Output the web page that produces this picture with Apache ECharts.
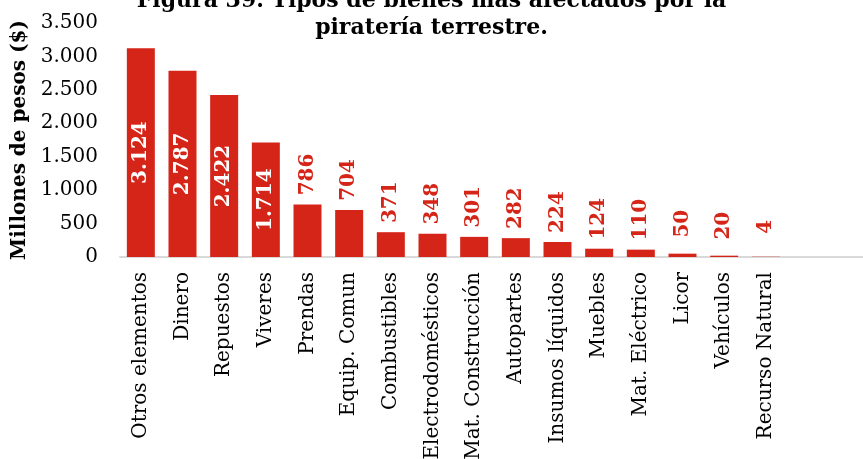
<!DOCTYPE html>
<html>
<head>
<meta charset="utf-8">
<script src="https://cdn.jsdelivr.net/npm/echarts@6/dist/echarts.min.js"></script>
<style>
  html, body { margin: 0; padding: 0; background: #fff; }
  #chart { width: 863px; height: 459px; }
</style>
</head>
<body>
<div id="chart"></div>
<script>
// categorías y valores (millones de pesos)
const categories = ['Otros elementos', 'Dinero', 'Repuestos', 'Viveres', 'Prendas', 'Equip. Comun',
  'Combustibles', 'Electrodomésticos', 'Mat. Construcción', 'Autopartes', 'Insumos líquidos',
  'Muebles', 'Mat. Eléctrico', 'Licor', 'Vehículos', 'Recurso Natural']
const values = [3124, 2787, 2422, 1714, 786, 704, 371, 348, 301, 282, 224, 124, 110, 50, 20, 4]
const yTicks = [0, 500, 1000, 1500, 2000, 2500, 3000, 3500]

const serif = 'DejaVu Serif'
const red = '#d52518'

// separador de miles con punto
const fmt = (v) => String(v).replace(/\B(?=(\d{3})+(?!\d))/g, '.')

// barras grandes: etiqueta blanca dentro; pequeñas: roja encima
const barData = values.map((v) => {
  const inside = v >= 1000
  return {
    value: v,
    label: inside
      ? { position: 'inside', color: '#fff', align: 'center', verticalAlign: 'middle' }
      : { position: 'top', color: red, align: 'center', verticalAlign: 'middle', distance: 30 }
  }
})

const option = {
  animation: false,
  title: {
    text: 'Figura 39. Tipos de bienes más afectados por la\npiratería terrestre.',
    left: 'center',
    top: -17,
    textStyle: {
      fontFamily: serif,
      fontWeight: 'bold',
      fontSize: 22,
      lineHeight: 27,
      color: '#000'
    }
  },
  grid: {
    left: 120,
    right: -7,
    top: 23,
    bottom: 202,
    outerBoundsMode: 'none'
  },
  xAxis: {
    type: 'category',
    data: categories,
    max: categories.length + 1,
    axisTick: { show: false },
    axisLine: { lineStyle: { color: '#d9d9d9', width: 2 } },
    axisLabel: {
      interval: 0,
      rotate: 90,
      margin: 15,
      color: '#000',
      fontFamily: serif,
      fontSize: 20,
      formatter: (v) => v || ''
    }
  },
  yAxis: {
    type: 'value',
    min: yTicks[0],
    max: yTicks[yTicks.length - 1],
    interval: yTicks[1] - yTicks[0],
    name: 'Millones de pesos ($)',
    nameLocation: 'middle',
    nameRotate: 90,
    nameGap: 87,
    nameTextStyle: {
      fontFamily: serif,
      fontWeight: 'bold',
      fontSize: 20,
      color: '#000'
    },
    axisLine: { show: false },
    axisTick: { show: false },
    splitLine: { show: false },
    axisLabel: {
      margin: 22,
      color: '#000',
      fontFamily: serif,
      fontSize: 20,
      formatter: fmt
    }
  },
  series: [
    {
      type: 'bar',
      data: barData,
      barWidth: 28,
      itemStyle: { color: red },
      label: {
        show: true,
        rotate: 90,
        fontFamily: serif,
        fontWeight: 'bold',
        fontSize: 20,
        formatter: (p) => fmt(p.value)
      }
    }
  ]
}

const chart = echarts.init(document.getElementById('chart'))
chart.setOption(option)
</script>
</body>
</html>
